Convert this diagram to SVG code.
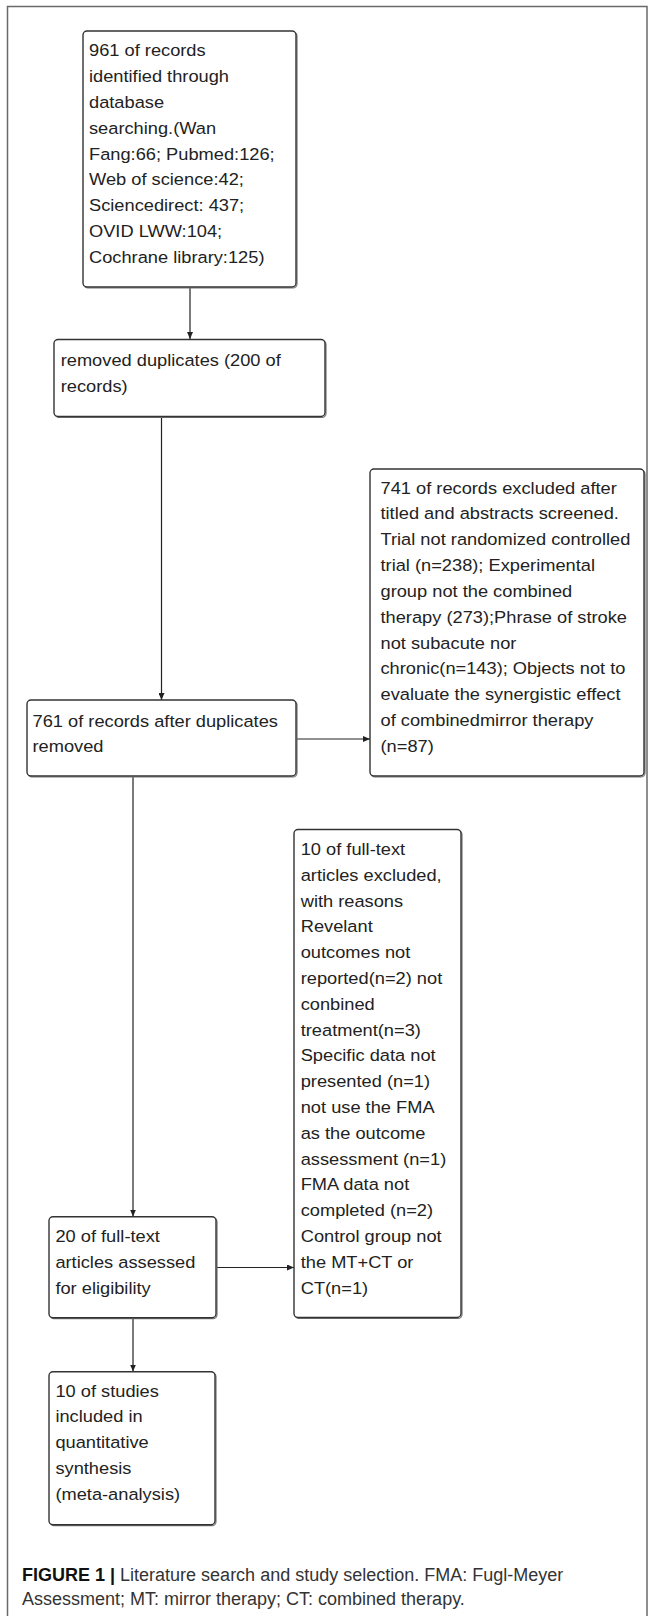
<svg xmlns="http://www.w3.org/2000/svg" width="654" height="1616" viewBox="0 0 654 1616">
  <style>
    .frame { fill: none; stroke: #6a6a6a; stroke-width: 1.5; }
    .box { fill: #ffffff; stroke: #333333; stroke-width: 1.4; }
    .shadow { fill: none; stroke: #777777; stroke-width: 1.2; }
    .t { font-family: "Liberation Sans", Arial, sans-serif; font-size: 16.3px; fill: #222222; }
    .conn { fill: none; stroke: #222222; stroke-width: 1.2; }
    .cap { font-family: "Liberation Sans", Arial, sans-serif; font-size: 18px; fill: #333333; }
    .capb { font-weight: bold; fill: #111111; }
  </style>
  <defs>
    <marker id="arrow" markerUnits="userSpaceOnUse" markerWidth="7" markerHeight="6" refX="7" refY="3" orient="auto">
      <path d="M0,0 L7,3 L0,6 z" fill="#222222"/>
    </marker>
  </defs>

  <rect width="654" height="1616" fill="#ffffff"/>
  <path class="frame" d="M7.5,1616 V6.5 H647 V1616"/>

  <g id="connectors">
    <line class="conn" x1="190" y1="288" x2="190" y2="339" marker-end="url(#arrow)"/>
    <line class="conn" x1="161.5" y1="417.5" x2="161.5" y2="700" marker-end="url(#arrow)"/>
    <line class="conn" x1="297" y1="739" x2="370" y2="739" marker-end="url(#arrow)"/>
    <line class="conn" x1="133" y1="777" x2="133" y2="1216.5" marker-end="url(#arrow)"/>
    <line class="conn" x1="217" y1="1267.5" x2="294" y2="1267.5" marker-end="url(#arrow)"/>
    <line class="conn" x1="133" y1="1318.5" x2="133" y2="1371.5" marker-end="url(#arrow)"/>
  </g>

  <g id="node-identified">
    <rect class="shadow" x="84" y="32" width="213" height="256" rx="4"/>
    <rect class="box" x="83" y="31" width="213" height="256" rx="4"/>
    <text class="t" transform="translate(89 56) scale(1.12 1)">
      <tspan x="0" dy="0">961 of records</tspan>
      <tspan x="0" dy="25.9">identified through</tspan>
      <tspan x="0" dy="25.9">database</tspan>
      <tspan x="0" dy="25.9">searching.(Wan</tspan>
      <tspan x="0" dy="25.9">Fang:66; Pubmed:126;</tspan>
      <tspan x="0" dy="25.9">Web of science:42;</tspan>
      <tspan x="0" dy="25.9">Sciencedirect: 437;</tspan>
      <tspan x="0" dy="25.9">OVID LWW:104;</tspan>
      <tspan x="0" dy="25.9">Cochrane library:125)</tspan>
    </text>
  </g>

  <g id="node-duplicates">
    <rect class="shadow" x="55" y="340.5" width="271" height="77" rx="4"/>
    <rect class="box" x="54" y="339.5" width="271" height="77" rx="4"/>
    <text class="t" transform="translate(60.7 366) scale(1.12 1)">
      <tspan x="0" dy="0">removed duplicates (200 of</tspan>
      <tspan x="0" dy="25.9">records)</tspan>
    </text>
  </g>

  <g id="node-after-duplicates">
    <rect class="shadow" x="28" y="701" width="269" height="76" rx="4"/>
    <rect class="box" x="27" y="700" width="269" height="76" rx="4"/>
    <text class="t" transform="translate(32.5 726.5) scale(1.12 1)">
      <tspan x="0" dy="0">761 of records after duplicates</tspan>
      <tspan x="0" dy="25.6">removed</tspan>
    </text>
  </g>

  <g id="node-excluded-screening">
    <rect class="shadow" x="371" y="470" width="274" height="307" rx="4"/>
    <rect class="box" x="370" y="469" width="274" height="307" rx="4"/>
    <text class="t" transform="translate(380.5 493.5) scale(1.12 1)">
      <tspan x="0" dy="0">741 of records excluded after</tspan>
      <tspan x="0" dy="25.85">titled and abstracts screened.</tspan>
      <tspan x="0" dy="25.85">Trial not randomized controlled</tspan>
      <tspan x="0" dy="25.85">trial (n=238); Experimental</tspan>
      <tspan x="0" dy="25.85">group not the combined</tspan>
      <tspan x="0" dy="25.85">therapy (273);Phrase of stroke</tspan>
      <tspan x="0" dy="25.85">not subacute nor</tspan>
      <tspan x="0" dy="25.85">chronic(n=143); Objects not to</tspan>
      <tspan x="0" dy="25.85">evaluate the synergistic effect</tspan>
      <tspan x="0" dy="25.85">of combinedmirror therapy</tspan>
      <tspan x="0" dy="25.85">(n=87)</tspan>
    </text>
  </g>

  <g id="node-fulltext-excluded">
    <rect class="shadow" x="295" y="830.5" width="167" height="488" rx="4"/>
    <rect class="box" x="294" y="829.5" width="167" height="488" rx="4"/>
    <text class="t" transform="translate(300.7 855) scale(1.12 1)">
      <tspan x="0" dy="0">10 of full-text</tspan>
      <tspan x="0" dy="25.8">articles excluded,</tspan>
      <tspan x="0" dy="25.8">with reasons</tspan>
      <tspan x="0" dy="25.8">Revelant</tspan>
      <tspan x="0" dy="25.8">outcomes not</tspan>
      <tspan x="0" dy="25.8">reported(n=2) not</tspan>
      <tspan x="0" dy="25.8">conbined</tspan>
      <tspan x="0" dy="25.8">treatment(n=3)</tspan>
      <tspan x="0" dy="25.8">Specific data not</tspan>
      <tspan x="0" dy="25.8">presented (n=1)</tspan>
      <tspan x="0" dy="25.8">not use the FMA</tspan>
      <tspan x="0" dy="25.8">as the outcome</tspan>
      <tspan x="0" dy="25.8">assessment (n=1)</tspan>
      <tspan x="0" dy="25.8">FMA data not</tspan>
      <tspan x="0" dy="25.8">completed (n=2)</tspan>
      <tspan x="0" dy="25.8">Control group not</tspan>
      <tspan x="0" dy="25.8">the MT+CT or</tspan>
      <tspan x="0" dy="25.8">CT(n=1)</tspan>
    </text>
  </g>

  <g id="node-fulltext-assessed">
    <rect class="shadow" x="50" y="1217.7" width="167" height="101" rx="4"/>
    <rect class="box" x="49" y="1216.7" width="167" height="101" rx="4"/>
    <text class="t" transform="translate(55.4 1242) scale(1.12 1)">
      <tspan x="0" dy="0">20 of full-text</tspan>
      <tspan x="0" dy="25.9">articles assessed</tspan>
      <tspan x="0" dy="25.9">for eligibility</tspan>
    </text>
  </g>

  <g id="node-included">
    <rect class="shadow" x="50" y="1372.7" width="166" height="153" rx="4"/>
    <rect class="box" x="49" y="1371.7" width="166" height="153" rx="4"/>
    <text class="t" transform="translate(55.4 1396.5) scale(1.12 1)">
      <tspan x="0" dy="0">10 of studies</tspan>
      <tspan x="0" dy="25.8">included in</tspan>
      <tspan x="0" dy="25.8">quantitative</tspan>
      <tspan x="0" dy="25.8">synthesis</tspan>
      <tspan x="0" dy="25.8">(meta-analysis)</tspan>
    </text>
  </g>

  <g id="caption">
    <text class="cap" x="22" y="1581"><tspan class="capb">FIGURE 1 |</tspan> Literature search and study selection. FMA: Fugl-Meyer</text>
    <text class="cap" x="22" y="1605">Assessment; MT: mirror therapy; CT: combined therapy.</text>
  </g>
</svg>
